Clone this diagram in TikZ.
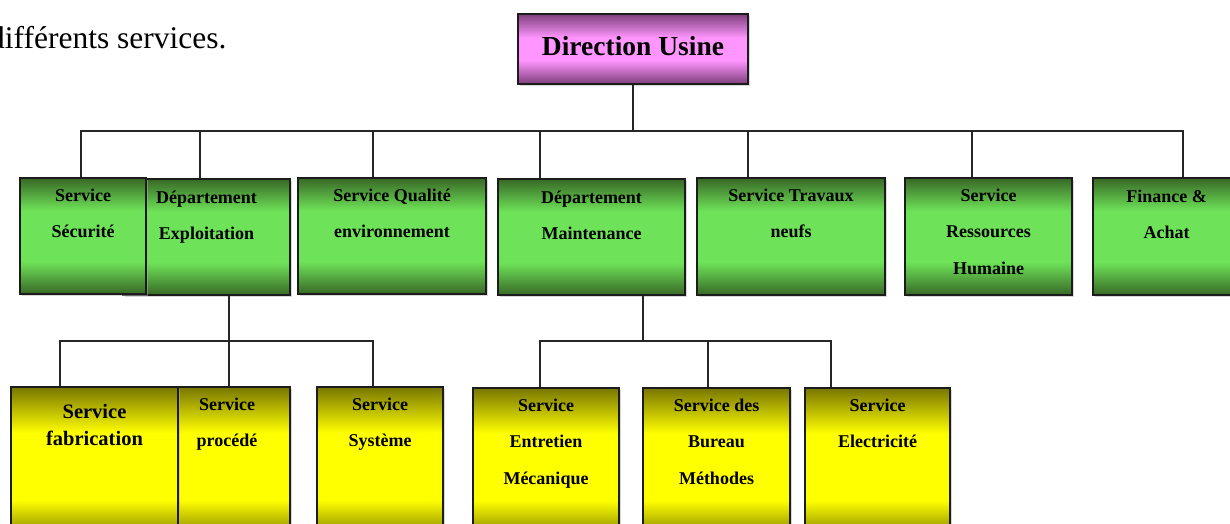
\documentclass[tikz,border=0pt]{standalone}
\usepackage{fontspec}
\setmainfont{Liberation Serif}
\usetikzlibrary{fit,shadows}
\definecolor{gdark}{RGB}{56,104,38}
\definecolor{glight}{RGB}{110,226,88}
\definecolor{ydark}{RGB}{120,118,0}
\definecolor{ylight}{RGB}{255,255,0}
\definecolor{pdark}{RGB}{125,62,122}
\definecolor{plight}{RGB}{255,150,255}
\definecolor{edge}{RGB}{28,28,28}
\pgfdeclareverticalshading{gshade}{100bp}{color(0bp)=(gdark); color(25bp)=(gdark); color(39bp)=(glight); color(61bp)=(glight); color(75bp)=(gdark); color(100bp)=(gdark)}
\pgfdeclareverticalshading{yshade}{100bp}{color(0bp)=(ydark); color(25bp)=(ydark); color(38bp)=(ylight); color(60bp)=(ylight); color(75bp)=(ydark); color(100bp)=(ydark)}
\pgfdeclareverticalshading{pshade}{100bp}{color(0bp)=(pdark); color(25bp)=(pdark); color(42bp)=(plight); color(58bp)=(plight); color(75bp)=(pdark); color(100bp)=(pdark)}
\begin{document}
\begin{tikzpicture}[x=1pt,y=-1pt,
  boxbase/.style={draw=edge, line width=1.6pt, inner sep=0pt, rectangle,
    drop shadow={shadow xshift=1.5pt, shadow yshift=-1.5pt, fill=black!30, opacity=0.5}},
  gbox/.style={boxbase, shade, shading=gshade},
  ybox/.style={boxbase, shade, shading=yshade},
  pbox/.style={boxbase, shade, shading=pshade},
  txt/.style={font=\fontsize{18}{36.5}\selectfont\bfseries, align=center, inner sep=0pt, anchor=north},
  bigtxt/.style={font=\fontsize{20.5}{27}\selectfont\bfseries, align=center, inner sep=0pt, anchor=north},
  conn/.style={draw=black!85, line width=1.4pt}]
\useasboundingbox (0,0) rectangle (1230,523);

\node[font=\fontsize{31.5}{36}\selectfont, anchor=base west, inner sep=0pt] (title) at (-11,48) {différents services.};

% top
\node[pbox, fit={(518,14) (748,84)}] (dir) {};
\node[font=\fontsize{27.5}{32}\selectfont\bfseries, anchor=base, inner sep=0pt] (dirT) at (633,55) {Direction Usine};

% level 1
\node[gbox, fit={(123,179) (290,295)}] (expl) {};
\node[gbox, fit={(20,178) (146,294)}] (secu) {};
\node[gbox, fit={(298,178) (486,294)}] (qual) {};
\node[gbox, fit={(498,179) (685,295)}] (maint) {};
\node[gbox, fit={(697,178) (885,295)}] (trav) {};
\node[gbox, fit={(905,178) (1072,295)}] (rh) {};
\node[gbox, fit={(1093,178) (1240,295)}] (fin) {};

\node[txt] (secuT) at ([yshift=-11pt]secu.north) {\rule{0pt}{13pt}Service\\Sécurité};
\node[txt] (explT) at ([yshift=-12pt]expl.north) {\rule{0pt}{13pt}Département\\Exploitation};
\node[txt] (qualT) at ([yshift=-11pt]qual.north) {\rule{0pt}{13pt}Service Qualité\\environnement};
\node[txt] (maintT) at ([yshift=-12pt]maint.north) {\rule{0pt}{13pt}Département\\Maintenance};
\node[txt] (travT) at ([yshift=-11pt]trav.north) {\rule{0pt}{13pt}Service Travaux\\neufs};
\node[txt] (rhT) at ([yshift=-11pt]rh.north) {\rule{0pt}{13pt}Service\\Ressources\\Humaine};
\node[txt] (finT) at ([yshift=-12pt]fin.north) {\rule{0pt}{13pt}Finance \&\\Achat};

% level 2
\node[ybox, fit={(164,387) (290,540)}] (proc) {};
\node[ybox, fit={(11,387) (178,540)}] (fab) {};
\node[ybox, fit={(317,387) (443,540)}] (sys) {};
\node[ybox, fit={(473,388) (619,540)}] (ent) {};
\node[ybox, fit={(643,388) (790,540)}] (bur) {};
\node[ybox, fit={(805,388) (950,540)}] (elec) {};

\node[bigtxt] (fabT) at ([yshift=-17.5pt]fab.north) {\rule{0pt}{14.5pt}Service\\fabrication};
\node[txt] (procT) at ([yshift=-11pt]proc.north) {\rule{0pt}{13pt}Service\\procédé};
\node[txt] (sysT) at ([yshift=-11pt]sys.north) {\rule{0pt}{13pt}Service\\Système};
\node[txt] (entT) at ([yshift=-11pt]ent.north) {\rule{0pt}{13pt}Service\\Entretien\\Mécanique};
\node[txt] (burT) at ([yshift=-11pt]bur.north) {\rule{0pt}{13pt}Service des\\Bureau\\Méthodes};
\node[txt] (elecT) at ([yshift=-11pt]elec.north) {\rule{0pt}{13pt}Service\\Electricité};

% connectors
\coordinate (bus) at (633,131);
\coordinate (bus2) at (229,341);
\coordinate (bus3) at (643,341);
\draw[conn] (dir.south) -- (bus);
\draw[conn] (bus) -| ([xshift=-2pt]secu.north);
\draw[conn] (bus) -| ([xshift=-6.5pt]expl.north);
\draw[conn] (bus) -| ([xshift=-19pt]qual.north);
\draw[conn] (bus) -| ([xshift=-51.5pt]maint.north);
\draw[conn] (bus) -| ([xshift=-43pt]trav.north);
\draw[conn] (bus) -| ([xshift=-16.5pt]rh.north);
\draw[conn] (bus) -| ([xshift=16.5pt]fin.north);

\draw[conn] ([xshift=22.5pt]expl.south) -- (bus2);
\draw[conn] (bus2) -| ([xshift=-34.5pt]fab.north);
\draw[conn] (bus2) -| ([xshift=2pt]proc.north);
\draw[conn] (bus2) -| ([xshift=-7pt]sys.north);

\draw[conn] ([xshift=51.5pt]maint.south) -- (bus3);
\draw[conn] (bus3) -| ([xshift=-6pt]ent.north);
\draw[conn] (bus3) -| ([xshift=-8.5pt]bur.north);
\draw[conn] (bus3) -| ([xshift=-46.5pt]elec.north);
\end{tikzpicture}
\end{document}
